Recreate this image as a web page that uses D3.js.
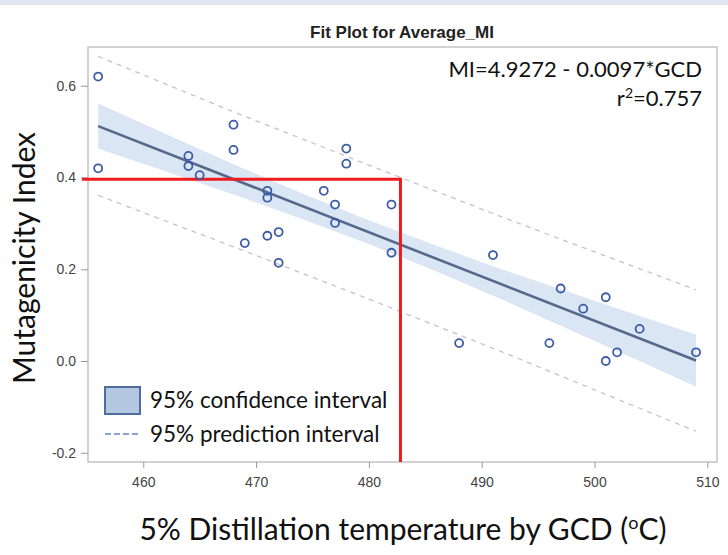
<!DOCTYPE html>
<html>
<head>
<meta charset="utf-8">
<script src="https://cdn.jsdelivr.net/npm/d3@7"></script>
<style>
body { margin: 0; background: #fff; }
svg { display: block; }
.axis text { font-family: "Liberation Sans", Arial, sans-serif; font-size: 14px; fill: #444; }
.axis line { stroke: #999; }
.axis path { display: none; }
</style>
</head>
<body>
<svg id="chart" width="728" height="555"></svg>
<script>
// observed points (GCD temperature, mutagenicity index)
var gcd = [456,456,464,464,465,468,468,469,471,471,471,472,472,476,477,477,478,478,482,482,488,491,496,497,499,501,501,502,504,509];
var mi = [0.620,0.420,0.447,0.425,0.405,0.515,0.460,0.257,0.371,0.356,0.273,0.281,0.214,0.371,0.341,0.301,0.463,0.430,0.341,0.236,0.039,0.231,0.039,0.158,0.114,0.139,0.000,0.019,0.070,0.019];

// fitted line
var fitX = [456, 509];
var fitY = [0.512, 0.001];

// 95% confidence band
var bandX = [456,462,468,474,480,486,492,498,504,509];
var clmUpper = [0.561,0.495,0.429,0.366,0.307,0.251,0.198,0.148,0.098,0.058];
var clmLower = [0.463,0.413,0.363,0.310,0.255,0.195,0.132,0.066,0.000,-0.056];

// 95% prediction limits
var predX = [456,468,480,492,504,509];
var predUpper = [0.664,0.543,0.427,0.312,0.201,0.155];
var predLower = [0.361,0.249,0.135,0.018,-0.103,-0.153];

var xTicks = [460,470,480,490,500,510];
var yTicks = [-0.2,0,0.2,0.4,0.6];
var yTickLabels = ["-0.2","0.0","0.2","0.4","0.6"];

// red reference lines
var refX = 482.8;
var refY = 0.396;

var svg = d3.select("#chart");

var plot = { left: 88, right: 717, top: 47, bottom: 462 };

var x = d3.scaleLinear().domain([455.1, 510.86]).range([plot.left, plot.right]);
var y = d3.scaleLinear().domain([-0.2201, 0.6844]).range([plot.bottom, plot.top]);

// light strip at the very top
svg.append("rect").attr("x", 0).attr("y", 0).attr("width", 728).attr("height", 5).attr("fill", "#dfe6f1");

svg.append("text")
    .attr("x", 402).attr("y", 38)
    .attr("text-anchor", "middle")
    .style("font-family", "Liberation Sans, Arial, sans-serif")
    .style("font-weight", "bold")
    .style("font-size", "17px")
    .attr("fill", "#222")
    .text("Fit Plot for Average_MI");

// confidence band
var band = bandX.map(function(d, i) { return { x: d, lo: clmLower[i], hi: clmUpper[i] }; });
svg.append("path")
    .datum(band)
    .attr("fill", "#dbe6f4")
    .attr("d", d3.area().x(d => x(d.x)).y0(d => y(d.lo)).y1(d => y(d.hi)));

// prediction limits
var predLine = d3.line().x(d => x(d[0])).y(d => y(d[1]));
[predUpper, predLower].forEach(function(arr) {
    svg.append("path")
        .datum(predX.map((d, i) => [d, arr[i]]))
        .attr("fill", "none")
        .attr("stroke", "#c0c4d6")
        .attr("stroke-width", 1.3)
        .attr("stroke-dasharray", "5,5")
        .attr("d", predLine);
});

// fit line
svg.append("path")
    .datum(fitX.map((d, i) => [d, fitY[i]]))
    .attr("fill", "none")
    .attr("stroke", "#56698a")
    .attr("stroke-width", 2.6)
    .attr("d", predLine);

// frame
svg.append("rect")
    .attr("x", plot.left).attr("y", plot.top)
    .attr("width", plot.right - plot.left).attr("height", plot.bottom - plot.top)
    .attr("fill", "none").attr("stroke", "#c4c4c4").attr("stroke-width", 1.5);

// axes
svg.append("g")
    .attr("class", "axis")
    .attr("transform", `translate(0,${plot.bottom})`)
    .call(d3.axisBottom(x).tickValues(xTicks).tickSize(6).tickPadding(9));

svg.append("g")
    .attr("class", "axis")
    .attr("transform", `translate(${plot.left},0)`)
    .call(d3.axisLeft(y).tickValues(yTicks).tickSize(7).tickPadding(5)
        .tickFormat((d, i) => yTickLabels[i]));

// red guide lines
svg.append("line")
    .attr("x1", plot.left - 6).attr("x2", x(refX))
    .attr("y1", y(refY)).attr("y2", y(refY))
    .attr("stroke", "#ee1c1c").attr("stroke-width", 3);
svg.append("line")
    .attr("x1", x(refX)).attr("x2", x(refX))
    .attr("y1", y(refY) - 1.5).attr("y2", plot.bottom)
    .attr("stroke", "#ee1c1c").attr("stroke-width", 3);

// points
svg.selectAll("circle.pt")
    .data(gcd)
    .enter()
    .append("circle")
    .attr("class", "pt")
    .attr("cx", d => x(d))
    .attr("cy", (d, i) => y(mi[i]))
    .attr("r", 4)
    .attr("fill", "none")
    .attr("stroke", "#3d5ca8")
    .attr("stroke-width", 1.8);

// equation
var eq = svg.append("g")
    .style("font-family", "Lato, sans-serif")
    .style("font-size", "22px")
    .attr("fill", "#111");
eq.append("text").attr("x", 702).attr("y", 77).attr("text-anchor", "end").text("MI=4.9272 - 0.0097*GCD");
var r2 = eq.append("text").attr("x", 702).attr("y", 106).attr("text-anchor", "end");
r2.append("tspan").text("r");
r2.append("tspan").attr("dy", -8).style("font-size", "14px").text("2");
r2.append("tspan").attr("dy", 8).text("=0.757");

// legend
var legend = svg.append("g")
    .style("font-family", "Lato, sans-serif")
    .style("font-size", "22.5px")
    .attr("fill", "#111");
legend.append("rect")
    .attr("x", 105).attr("y", 387).attr("width", 35).attr("height", 27)
    .attr("fill", "#b4c8e2").attr("stroke", "#4e6c9e").attr("stroke-width", 2);
legend.append("text").attr("x", 150).attr("y", 408).text("95% confidence interval");
legend.append("line")
    .attr("x1", 105).attr("x2", 140).attr("y1", 434).attr("y2", 434)
    .attr("stroke", "#8aa3d4").attr("stroke-width", 2).attr("stroke-dasharray", "6,3");
legend.append("text").attr("x", 150).attr("y", 442).text("95% prediction interval");

// axis titles
var xt = svg.append("text")
    .attr("x", 403).attr("y", 540)
    .attr("text-anchor", "middle")
    .style("font-family", "Lato, sans-serif")
    .style("font-size", "30px")
    .attr("fill", "#111");
xt.append("tspan").text("5% Distillation temperature by GCD (");
xt.append("tspan").attr("dy", -11).style("font-size", "18px").text("o");
xt.append("tspan").attr("dy", 11).text("C)");

svg.append("text")
    .attr("transform", "translate(35,258) rotate(-90)")
    .attr("text-anchor", "middle")
    .style("font-family", "Lato, sans-serif")
    .style("font-size", "30px")
    .attr("fill", "#111")
    .text("Mutagenicity Index");
</script>
</body>
</html>
